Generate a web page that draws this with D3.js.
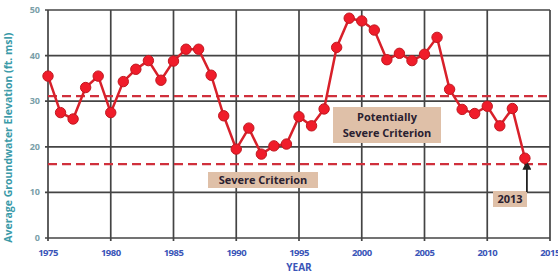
<!DOCTYPE html>
<html>
<head>
<meta charset="utf-8">
<script src="https://cdn.jsdelivr.net/npm/d3@7"></script>
<style>
  body { margin: 0; background: #fff; }
  svg { display: block; font-family: "Open Sans", "DejaVu Sans", sans-serif; }
</style>
</head>
<body>
<div id="container"></div>
<script>
// groundwater elevation by year
const years = d3.range(1975, 2014)
const elevation = [35.5, 27.5, 26.1, 33.0, 35.5, 27.5, 34.3, 37.0, 38.9, 34.6,
  38.8, 41.4, 41.4, 35.7, 26.8, 19.5, 24.1, 18.4, 20.2, 20.6,
  26.6, 24.6, 28.3, 41.8, 48.2, 47.6, 45.6, 39.1, 40.5, 38.9,
  40.3, 44.0, 32.6, 28.2, 27.3, 28.9, 24.6, 28.4, 17.5]
const xTicks = [1975, 1980, 1985, 1990, 1995, 2000, 2005, 2010, 2015]
const yTicks = [0, 10, 20, 30, 40, 50]
const criteria = [31.1, 16.2] // potentially severe, severe

const width = 558, height = 274
const svg = d3.select("#container").append("svg")
  .attr("width", width)
  .attr("height", height)

const x = d3.scaleLinear().domain([1975, 2015]).range([48, 550])
const y = d3.scaleLinear().domain([0, 50]).range([238, 10])

// grid
svg.append("g").selectAll("line").data(xTicks).enter().append("line")
  .attr("x1", d => x(d)).attr("x2", d => x(d))
  .attr("y1", y(50)).attr("y2", y(0) + 3)
  .style("stroke", "#444").style("stroke-width", 1.7)
svg.append("g").selectAll("line").data(yTicks).enter().append("line")
  .attr("x1", x(1975) - 3).attr("x2", x(2015))
  .attr("y1", d => y(d)).attr("y2", d => y(d))
  .style("stroke", "#444").style("stroke-width", 1.7)

// tick labels
svg.append("g").selectAll("text").data(xTicks).enter().append("text")
  .attr("x", d => x(d)).attr("y", 256)
  .attr("text-anchor", "middle")
  .style("font-size", "9.5px").style("font-weight", "bold")
  .style("fill", "#3a55b8").style("letter-spacing", "-0.5px")
  .text(d => d)
svg.append("g").selectAll("text").data(yTicks).enter().append("text")
  .attr("x", 40).attr("y", d => y(d) + 3)
  .attr("text-anchor", "end")
  .style("font-size", "9px").style("font-weight", "bold")
  .style("fill", "#7aa0a8")
  .text(d => d)

svg.append("text")
  .attr("x", x(1995)).attr("y", 271)
  .attr("text-anchor", "middle")
  .style("font-size", "10px").style("font-weight", "bold").style("fill", "#3a55b8")
  .text("YEAR")

svg.append("text")
  .attr("transform", "translate(12," + y(22) + ") rotate(-90)")
  .attr("text-anchor", "middle")
  .style("font-size", "10.5px").style("font-weight", "bold").style("fill", "#3a9aa8")
  .text("Average Groundwater Elevation (ft. msl)")

// criterion dashed lines
svg.append("g").selectAll("line").data(criteria).enter().append("line")
  .attr("x1", x(1975)).attr("x2", x(2015))
  .attr("y1", d => y(d)).attr("y2", d => y(d))
  .style("stroke", "#d0303c").style("stroke-width", 2.2)
  .style("stroke-dasharray", "9,5")

// labels in tan boxes
function boxLabel(cx, cy, w, h, lines) {
  svg.append("rect")
    .attr("x", cx - w / 2).attr("y", cy - h / 2)
    .attr("width", w).attr("height", h)
    .style("fill", "#dfc0a8")
  lines.forEach((t, i) => {
    svg.append("text")
      .attr("x", cx).attr("y", cy - (lines.length - 1) * 8 + i * 16 + 4)
      .attr("text-anchor", "middle")
      .style("font-size", "11px").style("font-weight", "bold").style("fill", "#2a2030")
      .text(t)
  })
}
boxLabel(387, 125, 108, 36, ["Potentially", "Severe Criterion"])
boxLabel(263, 180, 110, 16, ["Severe Criterion"])
boxLabel(510, 199, 34, 16, ["2013"])

// arrow to 2013 point
svg.append("defs").append("marker")
  .attr("id", "arr").attr("viewBox", "0 0 10 10")
  .attr("refX", 5).attr("refY", 5)
  .attr("markerWidth", 5).attr("markerHeight", 5)
  .attr("orient", "auto")
  .append("path").attr("d", "M0,0L10,5L0,10z").style("fill", "#222")
svg.append("line")
  .attr("x1", x(2013) + 2).attr("x2", x(2013) + 2)
  .attr("y1", 192).attr("y2", y(elevation[elevation.length - 1]) + 7)
  .style("stroke", "#222").style("stroke-width", 1.8)
  .attr("marker-end", "url(#arr)")

// data line + markers
const pts = years.map((yr, i) => [yr, elevation[i]])
svg.append("path")
  .datum(pts)
  .attr("d", d3.line().x(d => x(d[0])).y(d => y(d[1])))
  .style("fill", "none").style("stroke", "#d8202a").style("stroke-width", 2.5)
svg.append("g").selectAll("circle").data(pts).enter().append("circle")
  .attr("cx", d => x(d[0])).attr("cy", d => y(d[1]))
  .attr("r", 5.2)
  .style("fill", "#f01c2a").style("stroke", "#c01820").style("stroke-width", 1)
</script>
</body>
</html>
